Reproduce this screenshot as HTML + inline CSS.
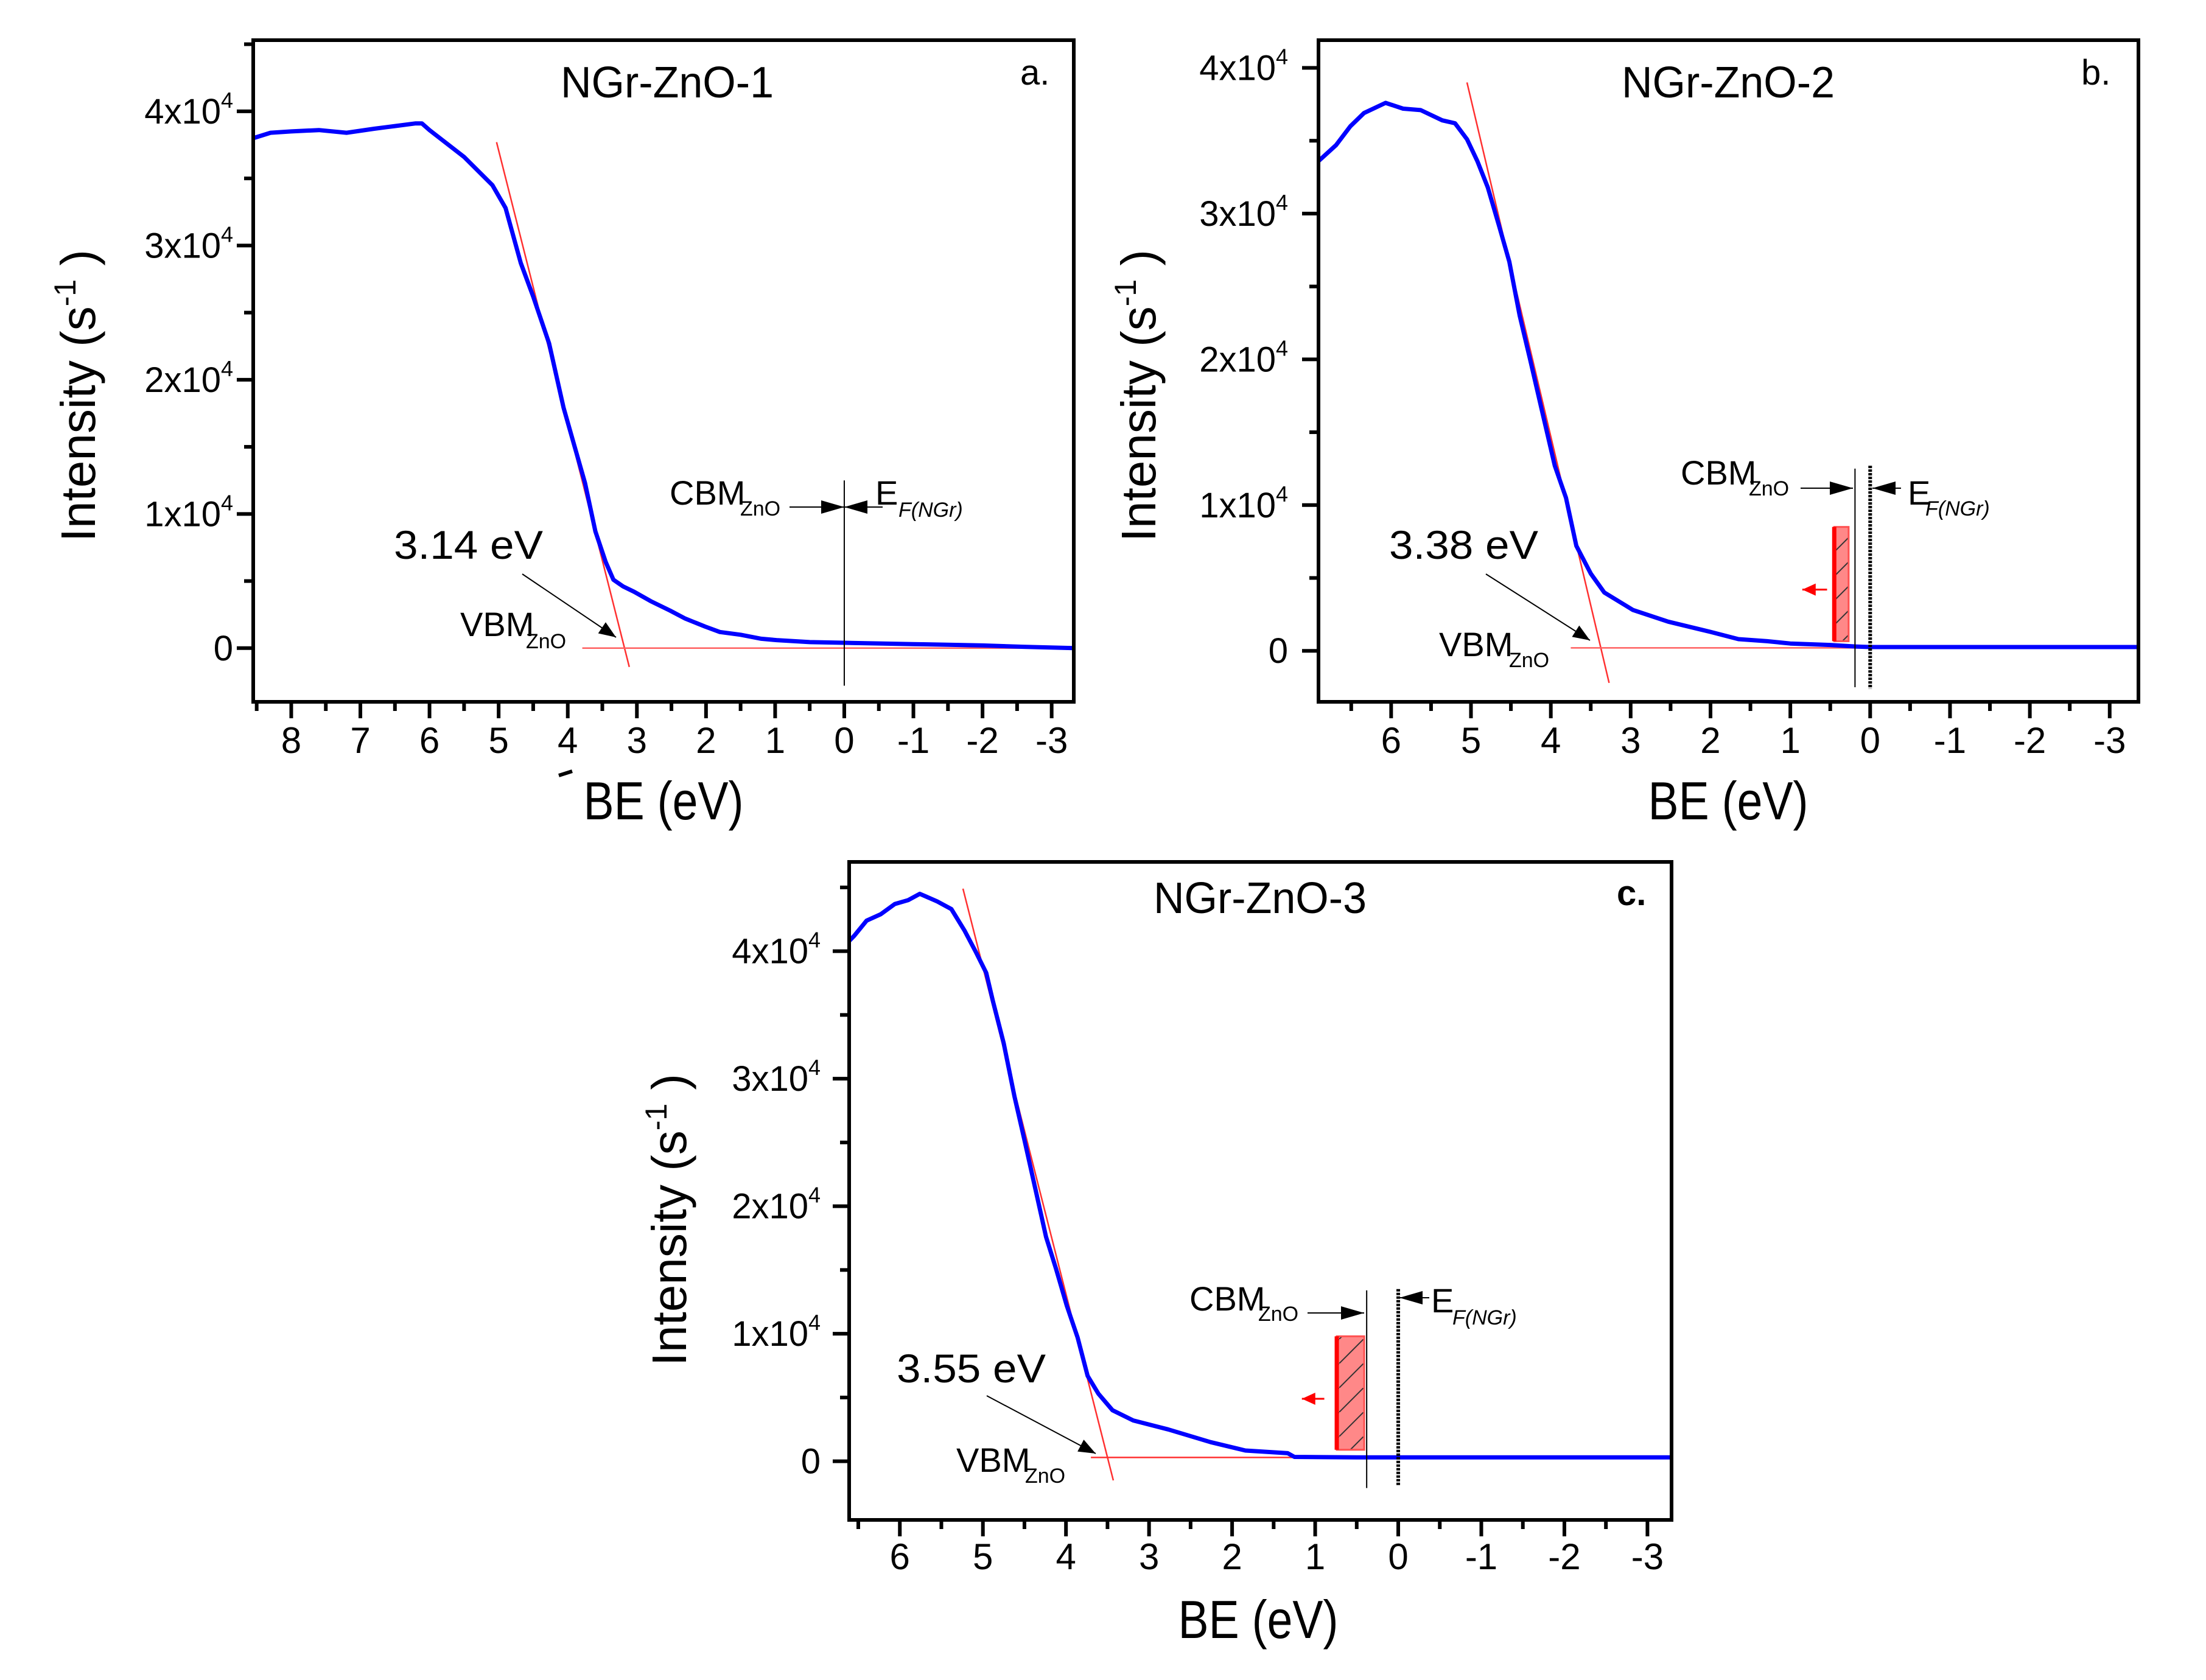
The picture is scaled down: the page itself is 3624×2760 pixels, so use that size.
<!DOCTYPE html>
<html><head><meta charset="utf-8"><style>
html,body{margin:0;padding:0;background:#fff}
svg{display:block}
text{font-family:"Liberation Sans",Arial,sans-serif;fill:#000}
</style></head><body>
<svg id="fig" xmlns="http://www.w3.org/2000/svg" width="3624" height="2760" viewBox="0 0 3624 2760">
<defs>
<pattern id="hatch" patternUnits="userSpaceOnUse" width="40" height="40">
<rect width="40" height="40" fill="#f88"/>
<path d="M0,40 L40,0" stroke="#333" stroke-width="2"/>
</pattern>
</defs>
</svg>
<script>
// ---- data (BE in eV, intensity in units of 1e4 s^-1) ----
const beA  = [8.55,8.3,8.0,7.6,7.2,6.8,6.5,6.2,6.11,6.0,5.8,5.5,5.09,4.9,4.68,4.5,4.27,4.06,3.9,3.75,3.6,3.45,3.34,3.2,3.04,2.8,2.52,2.3,2.01,1.8,1.5,1.2,0.98,0.5,0.0,-0.5,-1.0,-1.5,-2.0,-2.6,-3.32];
const intA = [3.80,3.84,3.85,3.86,3.84,3.87,3.89,3.91,3.91,3.86,3.78,3.66,3.45,3.28,2.87,2.62,2.27,1.79,1.50,1.23,0.87,0.64,0.51,0.46,0.42,0.35,0.28,0.22,0.16,0.12,0.10,0.07,0.06,0.045,0.04,0.035,0.03,0.025,0.02,0.01,0.0];
const beB  = [6.91,6.69,6.51,6.34,6.07,5.85,5.63,5.36,5.2,5.05,4.92,4.79,4.65,4.52,4.39,4.26,4.12,3.95,3.81,3.68,3.5,3.33,2.97,2.53,2.0,1.65,1.29,1.0,0.5,0.2,0.0,-1.0,-2.0,-3.36];
const intB = [3.36,3.47,3.60,3.69,3.76,3.72,3.71,3.64,3.62,3.51,3.36,3.18,2.92,2.67,2.30,2.00,1.67,1.27,1.05,0.72,0.53,0.40,0.28,0.20,0.13,0.08,0.066,0.05,0.04,0.03,0.026,0.026,0.026,0.026];
const beC  = [6.61,6.55,6.4,6.23,6.06,5.9,5.76,5.55,5.38,5.22,5.09,4.96,4.88,4.75,4.62,4.5,4.37,4.24,4.12,3.99,3.86,3.74,3.61,3.44,3.19,2.77,2.26,1.84,1.33,1.25,0.5,0.0,-1.0,-2.0,-3.29];
const intC = [4.08,4.12,4.24,4.29,4.37,4.40,4.45,4.39,4.33,4.16,4.00,3.83,3.61,3.28,2.86,2.52,2.14,1.76,1.51,1.22,0.97,0.67,0.53,0.40,0.32,0.25,0.15,0.084,0.063,0.034,0.03,0.03,0.03,0.03,0.03];
const xTickLabelsA = [8,7,6,5,4,3,2,1,0,-1,-2,-3];
const xTickLabelsBC = [6,5,4,3,2,1,0,-1,-2,-3];
const yTickLabels = [0,1,2,3,4];
const tangentA = [[5.03,3.77],[3.11,-0.14]];
const tangentB = [[5.05,3.90],[3.27,-0.22]];
const tangentC = [[5.24,4.49],[3.43,-0.15]];

const NS = "http://www.w3.org/2000/svg";
const svg = document.getElementById('fig');
function el(tag, attrs, parent){
  const e = document.createElementNS(NS, tag);
  for (const k in attrs) e.setAttribute(k, attrs[k]);
  (parent||svg).appendChild(e);
  return e;
}
function arrowHead(g, x1,y1,x2,y2, len, wid, color){
  const dx=x2-x1, dy=y2-y1, L=Math.hypot(dx,dy), ux=dx/L, uy=dy/L;
  const bx=x2-ux*len, by=y2-uy*len;
  const p = `${x2},${y2} ${bx-uy*wid},${by+ux*wid} ${bx+uy*wid},${by-ux*wid}`;
  const a = el('polygon',{points:p,fill:color||'#000'},g);
  
  
}
function subText(g, x, y, main, sub, subx, suby, name, italicSub){
  const t = el('text',{x:x,y:y,'font-size':56},g);
  t.textContent = main;
  
  
  const s = el('text',{x:subx,y:suby,'font-size':34,'font-style':italicSub?'italic':'normal'},g);
  s.textContent = sub;
  
  
}

function panel(c){
  const g = el('g',{});
  
  
  const sx = v => c.x0 + (c.L - v)/(c.L - c.R)*(c.x1 - c.x0);
  const sy = v => c.y1 - (v - c.B)/(c.T - c.B)*(c.y1 - c.y0);

  for (let v = Math.floor(c.L*2)/2; v >= c.R; v -= 0.5){
    const major = Math.abs(v - Math.round(v)) < 1e-6;
    const t = el('line',{x1:sx(v),x2:sx(v),y1:c.y1,y2:c.y1+(major?27:15),stroke:'#000','stroke-width':6},g);
    
    
  }
  c.xlabels.forEach(v=>{
    const t = el('text',{x:sx(v),y:c.xlabY,'font-size':60,'text-anchor':'middle'},g);
    t.textContent = String(v);
    
    
  });
  for (let v = 0; v <= c.T; v += 0.5){
    const major = Math.abs(v - Math.round(v)) < 1e-6;
    const t = el('line',{x1:c.x0,x2:c.x0-(major?27:15),y1:sy(v),y2:sy(v),stroke:'#000','stroke-width':6},g);
    
    
  }
  yTickLabels.forEach(v=>{
    if (v > c.T) return;
    const t = el('text',{x:c.ylabX,y:sy(v)+20,'font-size':58,'text-anchor':'end'},g);
    
    
    if (v === 0){ t.textContent = '0'; }
    else {
      const a = el('tspan',{},t); a.textContent = v + 'x10';
      const b = el('tspan',{'font-size':36,dy:-26}); t.appendChild(b); b.textContent='4';
    }
  });

  const tg = el('line',{x1:sx(c.tan[0][0]),y1:sy(c.tan[0][1]),x2:sx(c.tan[1][0]),y2:sy(c.tan[1][1]),stroke:'#ff3030','stroke-width':2.5},g);
  
  
  const bl = el('line',{x1:sx(c.baseFrom),y1:sy(c.baseY),x2:c.x1,y2:sy(c.baseY),stroke:c.baseColor,'stroke-width':2.5},g);
  
  

  const pts = c.be.map((b,i)=>sx(b).toFixed(1)+','+sy(c.inten[i]).toFixed(1)).join(' ');
  const cv = el('polyline',{points:pts,fill:'none',stroke:'#0000ff','stroke-width':7,'stroke-linejoin':'round'},g);
  
  

  const bx = el('rect',{x:c.x0,y:c.y0,width:c.x1-c.x0,height:c.y1-c.y0,fill:'none',stroke:'#000','stroke-width':6},g);
  
  

  const tt = el('text',{x:c.titleX,y:c.titleY,'font-size':72,'text-anchor':'middle',textLength:350,lengthAdjust:'spacingAndGlyphs'},g);
  tt.textContent = c.title;
  
  
  const pl = el('text',{x:c.letX,y:c.letY,'font-size':58,'font-weight':c.letBold?'bold':'normal'},g);
  pl.textContent = c.letter;
  
  
  const xt = el('text',{x:c.xtX,y:c.xtY,'font-size':88,'text-anchor':'middle',textLength:263,lengthAdjust:'spacingAndGlyphs'},g);
  xt.textContent = 'BE (eV)';
  
  
  const yt = el('text',{x:0,y:0,'font-size':80,'text-anchor':'middle',transform:`translate(${c.ytX+28},${c.ytY}) rotate(-90)`},g);
  
  
  const y1 = el('tspan',{},yt); y1.textContent='Intensity (s';
  const y2 = el('tspan',{'font-size':50,dy:-32},yt); y2.textContent='-1';
  const y3 = el('tspan',{dy:32},yt); y3.textContent=' )';

  const gl = el('text',{x:c.gapX,y:c.gapY,'font-size':66,textLength:245,lengthAdjust:'spacingAndGlyphs'},g);
  gl.textContent = c.gap;
  
  
  const ld = el('line',{x1:c.lead[0],y1:c.lead[1],x2:c.lead[2],y2:c.lead[3],stroke:'#000','stroke-width':2},g);
  
  
  arrowHead(g,c.lead[0],c.lead[1],c.lead[2],c.lead[3],28,11);
  subText(g,c.vbm[0],c.vbm[1],'VBM','ZnO',c.vbm[2],c.vbm[3],'vbm');
  subText(g,c.cbm[0],c.cbm[1],'CBM','ZnO',c.cbm[2],c.cbm[3],'cbm');
  subText(g,c.ef[0],c.ef[1],'E','F(NGr)',c.ef[2],c.ef[3],'fermi-level',true);

  const cl = el('line',{x1:sx(c.cbmX),x2:sx(c.cbmX),y1:sy(c.cbmY[0]),y2:sy(c.cbmY[1]),stroke:'#000','stroke-width':2},g);
  
  
  if (c.dotted){
    const dl = el('line',{x1:sx(0),x2:sx(0),y1:sy(c.efY[0]),y2:sy(c.efY[1]),stroke:'#000','stroke-width':6,'stroke-dasharray':'4 2'},g);
    
    
  }
  const ay1 = c.cbmArrow[2];
  const a1 = el('line',{x1:c.cbmArrow[0],y1:ay1,x2:c.cbmArrow[1],y2:ay1,stroke:'#000','stroke-width':2},g);
  
  
  arrowHead(g,c.cbmArrow[0],ay1,c.cbmArrow[1],ay1,38,11);
  const a2 = el('line',{x1:c.efArrow[0],y1:c.efArrow[2],x2:c.efArrow[1],y2:c.efArrow[2],stroke:'#000','stroke-width':2},g);
  
  
  arrowHead(g,c.efArrow[0],c.efArrow[2],c.efArrow[1],c.efArrow[2],38,11);

  if (c.rect){
    const r = c.rect;
    const rr = el('rect',{x:sx(r[0]),y:sy(r[2]),width:sx(r[1])-sx(r[0]),height:sy(r[3])-sy(r[2]),fill:'url(#hatch)',stroke:'#ff5050','stroke-width':3},g);
    
    
    const re = el('line',{x1:sx(r[0]),x2:sx(r[0]),y1:sy(r[2]),y2:sy(r[3]),stroke:'#ff0000','stroke-width':7},g);
    
    
    const ra = c.redArrow;
    const rl = el('line',{x1:sx(ra[0]),x2:sx(ra[1]),y1:sy(ra[2]),y2:sy(ra[2]),stroke:'#ff0000','stroke-width':3},g);
    
    
    arrowHead(g,sx(ra[0]),sy(ra[2]),sx(ra[1]),sy(ra[2]),22,10,'#ff0000');
  }
  return g;
}

panel({name:'panel-a',x0:416,x1:1764,y0:66,y1:1153,L:8.55,R:-3.32,T:4.53,B:-0.40,
  be:beA,inten:intA,xlabels:xTickLabelsA,xlabY:1237,ylabX:383,tan:tangentA,
  baseFrom:3.79,baseY:0.0,baseColor:'#ff6060',
  title:'NGr-ZnO-1',titleX:1096,titleY:160,letter:'a.',letX:1676,letY:139,
  xtX:1090,xtY:1346,ytX:128,ytY:650,gap:'3.14 eV',gapX:647,gapY:918,lead:[858,943,1012,1047],
  vbm:[756,1045,864,1065],cbm:[1100,829,1216,847],ef:[1438,829,1476,849],
  cbmX:0,cbmY:[1.25,-0.28],dotted:false,cbmArrow:[1297,1387,833],efArrow:[1450,1387,833]});

panel({name:'panel-b',x0:2166,x1:3513,y0:66,y1:1153,L:6.91,R:-3.36,T:4.19,B:-0.35,
  be:beB,inten:intB,xlabels:xTickLabelsBC,xlabY:1237,ylabX:2116,tan:tangentB,
  baseFrom:3.75,baseY:0.02,baseColor:'#ff6060',
  title:'NGr-ZnO-2',titleX:2839,titleY:160,letter:'b.',letX:3419,letY:139,
  xtX:2839,xtY:1346,ytX:1870,ytY:650,gap:'3.38 eV',gapX:2282,gapY:918,lead:[2441,943,2612,1052],
  vbm:[2364,1078,2479,1096],cbm:[2761,796,2873,814],ef:[3134,829,3163,847],
  cbmX:0.19,cbmY:[1.25,-0.25],dotted:true,efY:[1.27,-0.26],cbmArrow:[2958,3044,802],efArrow:[3123,3076,802],
  rect:[0.45,0.27,0.85,0.066],redArrow:[0.54,0.85,0.42]});

panel({name:'panel-c',x0:1395,x1:2746,y0:1416,y1:2497,L:6.61,R:-3.29,T:4.70,B:-0.46,
  be:beC,inten:intC,xlabels:xTickLabelsBC,xlabY:2578,ylabX:1348,tan:tangentC,
  baseFrom:3.7,baseY:0.03,baseColor:'#ff3030',
  title:'NGr-ZnO-3',titleX:2070,titleY:1500,letter:'c.',letBold:true,letX:2656,letY:1487,
  xtX:2067,xtY:2691,ytX:1099,ytY:2004,gap:'3.55 eV',gapX:1473,gapY:2271,lead:[1621,2293,1800,2388],
  vbm:[1571,2418,1684,2436],cbm:[1954,2153,2067,2170],ef:[2351,2156,2386,2176],
  cbmX:0.38,cbmY:[1.34,-0.21],dotted:true,efY:[1.35,-0.19],cbmArrow:[2148,2241,2157],efArrow:[2348,2299,2132],
  rect:[0.74,0.41,0.98,0.09],redArrow:[0.89,1.16,0.49]});

const mk = el('line',{x1:918,y1:1274,x2:940,y2:1267,stroke:'#000','stroke-width':6});


</script>
</body></html>
